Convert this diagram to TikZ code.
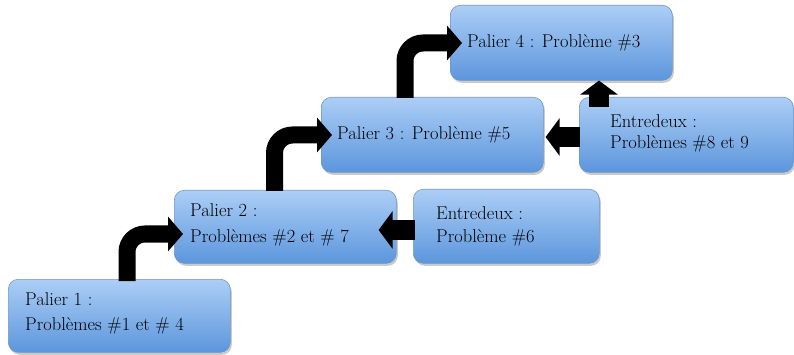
\documentclass[tikz,border=0pt]{standalone}
\usetikzlibrary{arrows.meta,shadows,calc}
\definecolor{boxtop}{RGB}{172,206,246}
\definecolor{boxbot}{RGB}{92,150,220}
\definecolor{boxline}{RGB}{110,150,200}
\tikzset{
  stage/.style={draw=boxline, line width=0.6pt, rounded corners=10pt,
    top color=boxtop, bottom color=boxbot,
    drop shadow={shadow xshift=1.5pt, shadow yshift=-2.5pt, opacity=0.35, fill=black!60},
    anchor=north west, inner sep=0pt},
  txt/.style={anchor=base west, inner sep=0pt, text=black, font=\fontsize{18.5}{22}\selectfont},
  bendarrow/.style={line width=17pt, draw=black, rounded corners=18pt,
    -{Triangle[width=34pt,length=15pt]}},
  pusharrow/.style={line width=20pt, draw=black,
    -{Triangle[width=37pt,length=14pt]}},
}
\begin{document}
\begin{tikzpicture}[x=1pt,y=-1pt]
\useasboundingbox (0,0) rectangle (794,355);
% boxes
\node[stage, minimum width=222pt, minimum height=73pt] (p1) at (8,279) {};
\node[stage, minimum width=222pt, minimum height=73pt] (p2) at (174,190) {};
\node[stage, minimum width=186pt, minimum height=74pt] (e6) at (413,189) {};
\node[stage, minimum width=222pt, minimum height=75pt] (p3) at (321,97) {};
\node[stage, minimum width=222pt, minimum height=75pt] (p4) at (450,5) {};
\node[stage, minimum width=214pt, minimum height=75pt] (e89) at (579,97) {};
% texts
\node[txt] (p1a) at (25,305) {Palier 1 :};
\node[txt] (p1b) at (25,330) {Problèmes \#1 et \# 4};
\node[txt] (p2a) at (190,217) {Palier 2 :};
\node[txt] (p2b) at (190,243) {Problèmes \#2 et \# 7};
\node[txt] (e6a) at (436,220) {Entredeux :};
\node[txt] (e6b) at (436,243) {Problème \#6};
\node[txt] (p3a) at (337,140) {Palier 3 : Problème \#5};
\node[txt] (p4a) at (467,48) {Palier 4 : Problème \#3};
\node[txt] (e89a) at (610,128) {Entredeux :};
\node[txt] (e89b) at (610,149) {Problèmes \#8 et 9};
% arrow end points
\coordinate (s1) at ($(p1.north west)+(119,2)$);
\coordinate (t1) at ($(p2.north west)+(9,44)$);
\coordinate (s2) at ($(p2.north west)+(100.5,1)$);
\coordinate (t2) at ($(p3.north west)+(11,38)$);
\coordinate (s3) at ($(p3.north west)+(84,1)$);
\coordinate (t3) at ($(p4.north west)+(12,38)$);
\coordinate (s4) at ($(e6.north west)+(2,41)$);
\coordinate (t4) at ($(p2.north east)+(-18,40)$);
\coordinate (s5) at ($(e89.north west)+(1,40)$);
\coordinate (t5) at ($(p3.north east)+(2,40)$);
\coordinate (s6) at ($(e89.north west)+(20,10)$);
\coordinate (t6) at ($(p4.south west)+(149,0)$);
% arrows
\draw[bendarrow] (s1) |- (t1);
\draw[bendarrow] (s2) |- (t2);
\draw[bendarrow] (s3) |- (t3);
\draw[pusharrow] (s4) -- (t4);
\draw[pusharrow] (s5) -- (t5);
\draw[pusharrow] (s6) -- (t6);
\end{tikzpicture}
\end{document}
